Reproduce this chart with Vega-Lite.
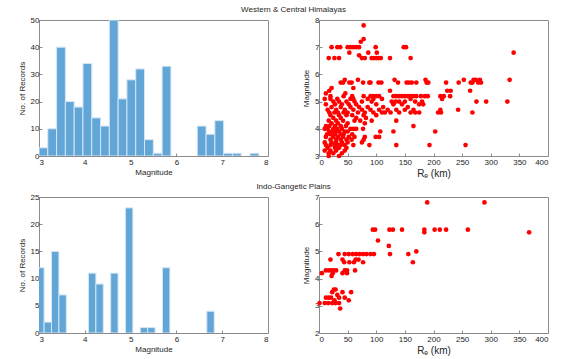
{
  "$schema": "https://vega.github.io/schema/vega-lite/v6.json",
  "padding": {"left": 17, "top": 5, "right": 5, "bottom": 5},
  "background": "white",
  "datasets": {
    "hist_wch": [
      {"bin_start": 3.000, "bin_end": 3.192, "count": 3},
      {"bin_start": 3.192, "bin_end": 3.384, "count": 10},
      {"bin_start": 3.384, "bin_end": 3.576, "count": 40},
      {"bin_start": 3.576, "bin_end": 3.768, "count": 20},
      {"bin_start": 3.768, "bin_end": 3.960, "count": 18},
      {"bin_start": 3.960, "bin_end": 4.152, "count": 34},
      {"bin_start": 4.152, "bin_end": 4.344, "count": 14},
      {"bin_start": 4.344, "bin_end": 4.536, "count": 11},
      {"bin_start": 4.536, "bin_end": 4.728, "count": 50},
      {"bin_start": 4.728, "bin_end": 4.920, "count": 21},
      {"bin_start": 4.920, "bin_end": 5.112, "count": 28},
      {"bin_start": 5.112, "bin_end": 5.304, "count": 32},
      {"bin_start": 5.304, "bin_end": 5.496, "count": 6},
      {"bin_start": 5.496, "bin_end": 5.688, "count": 1},
      {"bin_start": 5.688, "bin_end": 5.880, "count": 33},
      {"bin_start": 6.456, "bin_end": 6.648, "count": 11},
      {"bin_start": 6.648, "bin_end": 6.840, "count": 8},
      {"bin_start": 6.840, "bin_end": 7.032, "count": 13},
      {"bin_start": 7.032, "bin_end": 7.224, "count": 1},
      {"bin_start": 7.224, "bin_end": 7.416, "count": 1},
      {"bin_start": 7.608, "bin_end": 7.800, "count": 1}
    ],
    "hist_igp": [
      {"bin_start": 2.950, "bin_end": 3.1115, "count": 12},
      {"bin_start": 3.1115, "bin_end": 3.273, "count": 2},
      {"bin_start": 3.273, "bin_end": 3.4345, "count": 15},
      {"bin_start": 3.4345, "bin_end": 3.596, "count": 7},
      {"bin_start": 4.0805, "bin_end": 4.242, "count": 11},
      {"bin_start": 4.242, "bin_end": 4.4035, "count": 9},
      {"bin_start": 4.565, "bin_end": 4.7265, "count": 11},
      {"bin_start": 4.888, "bin_end": 5.0495, "count": 23},
      {"bin_start": 5.211, "bin_end": 5.3725, "count": 1},
      {"bin_start": 5.3725, "bin_end": 5.534, "count": 1},
      {"bin_start": 5.6955, "bin_end": 5.857, "count": 12},
      {"bin_start": 6.6645, "bin_end": 6.826, "count": 4}
    ],
    "sc_wch": [
      {"r": 78, "m": 7.8}, {"r": 78, "m": 7.3}, {"r": 73, "m": 7.2},
      {"r": 22, "m": 7.0}, {"r": 32, "m": 7.0}, {"r": 37, "m": 7.0}, {"r": 50, "m": 7.0}, {"r": 55, "m": 7.0}, {"r": 60, "m": 7.0}, {"r": 65, "m": 7.0}, {"r": 70, "m": 7.0}, {"r": 99, "m": 7.0}, {"r": 148, "m": 7.0}, {"r": 152, "m": 7.0},
      {"r": 53, "m": 6.8}, {"r": 86, "m": 6.8}, {"r": 101, "m": 6.8}, {"r": 340, "m": 6.8},
      {"r": 70, "m": 6.7},
      {"r": 17, "m": 6.6}, {"r": 27, "m": 6.6}, {"r": 35, "m": 6.6}, {"r": 75, "m": 6.6}, {"r": 80, "m": 6.6}, {"r": 92, "m": 6.6}, {"r": 96, "m": 6.6}, {"r": 100, "m": 6.6}, {"r": 104, "m": 6.6}, {"r": 108, "m": 6.6}, {"r": 124, "m": 6.6}, {"r": 160, "m": 6.6},
      {"r": 45, "m": 5.8}, {"r": 68, "m": 5.8}, {"r": 132, "m": 5.8}, {"r": 186, "m": 5.8}, {"r": 253, "m": 5.8}, {"r": 270, "m": 5.8}, {"r": 274, "m": 5.8}, {"r": 281, "m": 5.8}, {"r": 333, "m": 5.8},
      {"r": 38, "m": 5.7}, {"r": 42, "m": 5.7}, {"r": 53, "m": 5.7}, {"r": 57, "m": 5.7}, {"r": 77, "m": 5.7}, {"r": 88, "m": 5.7}, {"r": 90, "m": 5.7}, {"r": 104, "m": 5.7}, {"r": 109, "m": 5.7}, {"r": 138, "m": 5.7}, {"r": 153, "m": 5.7}, {"r": 157, "m": 5.7}, {"r": 162, "m": 5.7}, {"r": 170, "m": 5.7}, {"r": 188, "m": 5.7}, {"r": 191, "m": 5.7}, {"r": 222, "m": 5.7}, {"r": 244, "m": 5.7}, {"r": 265, "m": 5.7}, {"r": 268, "m": 5.7}, {"r": 278, "m": 5.7}, {"r": 283, "m": 5.7},
      {"r": 22, "m": 5.5}, {"r": 60, "m": 5.5},
      {"r": 18, "m": 5.4}, {"r": 124, "m": 5.4}, {"r": 224, "m": 5.4}, {"r": 230, "m": 5.4}, {"r": 264, "m": 5.4},
      {"r": 12, "m": 5.3}, {"r": 46, "m": 5.3},
      {"r": 20, "m": 5.2}, {"r": 43, "m": 5.2}, {"r": 58, "m": 5.2}, {"r": 78, "m": 5.2}, {"r": 90, "m": 5.2}, {"r": 95, "m": 5.2}, {"r": 100, "m": 5.2}, {"r": 105, "m": 5.2}, {"r": 130, "m": 5.2}, {"r": 135, "m": 5.2}, {"r": 140, "m": 5.2}, {"r": 145, "m": 5.2}, {"r": 150, "m": 5.2}, {"r": 155, "m": 5.2}, {"r": 160, "m": 5.2}, {"r": 165, "m": 5.2}, {"r": 170, "m": 5.2}, {"r": 178, "m": 5.2}, {"r": 185, "m": 5.2}, {"r": 190, "m": 5.2}, {"r": 212, "m": 5.2}, {"r": 218, "m": 5.2}, {"r": 229, "m": 5.2},
      {"r": 10, "m": 5.1}, {"r": 20, "m": 5.1}, {"r": 32, "m": 5.1}, {"r": 55, "m": 5.1}, {"r": 60, "m": 5.1}, {"r": 85, "m": 5.1}, {"r": 95, "m": 5.1}, {"r": 110, "m": 5.1}, {"r": 160, "m": 5.1}, {"r": 215, "m": 5.1},
      {"r": 25, "m": 5.0}, {"r": 35, "m": 5.0}, {"r": 48, "m": 5.0}, {"r": 62, "m": 5.0}, {"r": 75, "m": 5.0}, {"r": 92, "m": 5.0}, {"r": 127, "m": 5.0}, {"r": 134, "m": 5.0}, {"r": 140, "m": 5.0}, {"r": 150, "m": 5.0}, {"r": 168, "m": 5.0}, {"r": 180, "m": 5.0}, {"r": 275, "m": 5.0}, {"r": 292, "m": 5.0}, {"r": 329, "m": 5.0},
      {"r": 12, "m": 4.9}, {"r": 28, "m": 4.9}, {"r": 40, "m": 4.9}, {"r": 52, "m": 4.9}, {"r": 65, "m": 4.9}, {"r": 100, "m": 4.9}, {"r": 130, "m": 4.9}, {"r": 145, "m": 4.9}, {"r": 175, "m": 4.9}, {"r": 182, "m": 4.9},
      {"r": 22, "m": 4.8}, {"r": 38, "m": 4.8}, {"r": 55, "m": 4.8}, {"r": 70, "m": 4.8}, {"r": 85, "m": 4.8}, {"r": 112, "m": 4.8}, {"r": 155, "m": 4.8},
      {"r": 15, "m": 4.7}, {"r": 30, "m": 4.7}, {"r": 45, "m": 4.7}, {"r": 60, "m": 4.7}, {"r": 75, "m": 4.7}, {"r": 90, "m": 4.7}, {"r": 105, "m": 4.7}, {"r": 120, "m": 4.7}, {"r": 135, "m": 4.7}, {"r": 150, "m": 4.7}, {"r": 165, "m": 4.7}, {"r": 212, "m": 4.7}, {"r": 243, "m": 4.7},
      {"r": 18, "m": 4.6}, {"r": 27, "m": 4.6}, {"r": 33, "m": 4.6}, {"r": 43, "m": 4.6}, {"r": 50, "m": 4.6}, {"r": 68, "m": 4.6}, {"r": 80, "m": 4.6}, {"r": 95, "m": 4.6}, {"r": 110, "m": 4.6}, {"r": 115, "m": 4.6}, {"r": 125, "m": 4.6}, {"r": 140, "m": 4.6}, {"r": 160, "m": 4.6}, {"r": 168, "m": 4.6}, {"r": 175, "m": 4.6}, {"r": 208, "m": 4.6}, {"r": 213, "m": 4.6}, {"r": 268, "m": 4.6},
      {"r": 20, "m": 4.5}, {"r": 35, "m": 4.5}, {"r": 48, "m": 4.5}, {"r": 58, "m": 4.5}, {"r": 78, "m": 4.5}, {"r": 100, "m": 4.5},
      {"r": 25, "m": 4.4}, {"r": 38, "m": 4.4}, {"r": 65, "m": 4.4}, {"r": 82, "m": 4.4},
      {"r": 17, "m": 4.3}, {"r": 30, "m": 4.3}, {"r": 42, "m": 4.3}, {"r": 62, "m": 4.3}, {"r": 72, "m": 4.3}, {"r": 92, "m": 4.3}, {"r": 135, "m": 4.3},
      {"r": 22, "m": 4.2}, {"r": 33, "m": 4.2}, {"r": 50, "m": 4.2}, {"r": 80, "m": 4.2},
      {"r": 12, "m": 4.1}, {"r": 18, "m": 4.1}, {"r": 28, "m": 4.1}, {"r": 38, "m": 4.1}, {"r": 47, "m": 4.1}, {"r": 165, "m": 4.1},
      {"r": 10, "m": 4.0}, {"r": 15, "m": 4.0}, {"r": 25, "m": 4.0}, {"r": 32, "m": 4.0}, {"r": 40, "m": 4.0}, {"r": 55, "m": 4.0}, {"r": 60, "m": 4.0}, {"r": 65, "m": 4.0}, {"r": 77, "m": 4.0},
      {"r": 18, "m": 3.9}, {"r": 23, "m": 3.9}, {"r": 30, "m": 3.9}, {"r": 35, "m": 3.9}, {"r": 45, "m": 3.9}, {"r": 50, "m": 3.9}, {"r": 107, "m": 3.9}, {"r": 130, "m": 3.9}, {"r": 203, "m": 3.9},
      {"r": 14, "m": 3.8}, {"r": 20, "m": 3.8}, {"r": 28, "m": 3.8}, {"r": 38, "m": 3.8}, {"r": 43, "m": 3.8}, {"r": 58, "m": 3.8},
      {"r": 12, "m": 3.7}, {"r": 25, "m": 3.7}, {"r": 33, "m": 3.7}, {"r": 42, "m": 3.7}, {"r": 52, "m": 3.7}, {"r": 62, "m": 3.7}, {"r": 80, "m": 3.7}, {"r": 99, "m": 3.7}, {"r": 105, "m": 3.7},
      {"r": 20, "m": 3.6}, {"r": 30, "m": 3.6}, {"r": 38, "m": 3.6}, {"r": 48, "m": 3.6}, {"r": 57, "m": 3.6}, {"r": 78, "m": 3.6},
      {"r": 10, "m": 3.5}, {"r": 22, "m": 3.5}, {"r": 30, "m": 3.5}, {"r": 40, "m": 3.5}, {"r": 50, "m": 3.5}, {"r": 75, "m": 3.5},
      {"r": 12, "m": 3.4}, {"r": 20, "m": 3.4}, {"r": 27, "m": 3.4}, {"r": 33, "m": 3.4}, {"r": 38, "m": 3.4}, {"r": 45, "m": 3.4}, {"r": 60, "m": 3.4}, {"r": 88, "m": 3.4}, {"r": 135, "m": 3.4}, {"r": 193, "m": 3.4}, {"r": 256, "m": 3.4},
      {"r": 15, "m": 3.3}, {"r": 28, "m": 3.3}, {"r": 35, "m": 3.3}, {"r": 48, "m": 3.3},
      {"r": 10, "m": 3.2}, {"r": 20, "m": 3.2}, {"r": 30, "m": 3.2}, {"r": 45, "m": 3.2},
      {"r": 17, "m": 3.1}, {"r": 25, "m": 3.1}, {"r": 40, "m": 3.1},
      {"r": 17, "m": 3.0}, {"r": 35, "m": 3.0}
    ],
    "sc_igp": [
      {"r": 1, "m": 3.1},
      {"r": 5, "m": 4.2}, {"r": 12, "m": 4.3}, {"r": 17, "m": 4.3}, {"r": 22, "m": 4.3}, {"r": 26, "m": 4.3}, {"r": 30, "m": 4.3}, {"r": 24, "m": 4.2}, {"r": 22, "m": 4.1}, {"r": 20, "m": 4.7},
      {"r": 34, "m": 4.9}, {"r": 45, "m": 4.9}, {"r": 52, "m": 4.9}, {"r": 59, "m": 4.9}, {"r": 65, "m": 4.9}, {"r": 71, "m": 4.9}, {"r": 77, "m": 4.9}, {"r": 83, "m": 4.9}, {"r": 90, "m": 4.9}, {"r": 96, "m": 4.9},
      {"r": 41, "m": 4.7}, {"r": 44, "m": 4.6}, {"r": 53, "m": 4.6}, {"r": 64, "m": 4.7}, {"r": 69, "m": 4.7}, {"r": 61, "m": 4.6}, {"r": 77, "m": 4.6},
      {"r": 45, "m": 4.3}, {"r": 49, "m": 4.3}, {"r": 63, "m": 4.3}, {"r": 41, "m": 4.2}, {"r": 49, "m": 4.2},
      {"r": 94, "m": 5.8}, {"r": 98, "m": 5.8}, {"r": 123, "m": 5.8}, {"r": 129, "m": 5.8}, {"r": 145, "m": 5.8}, {"r": 184, "m": 5.8}, {"r": 202, "m": 5.8}, {"r": 211, "m": 5.8}, {"r": 222, "m": 5.8}, {"r": 260, "m": 5.8},
      {"r": 184, "m": 5.7}, {"r": 367, "m": 5.7},
      {"r": 103, "m": 5.4}, {"r": 122, "m": 5.2}, {"r": 124, "m": 4.9}, {"r": 156, "m": 4.9}, {"r": 170, "m": 5.0}, {"r": 164, "m": 4.6},
      {"r": 189, "m": 6.8}, {"r": 289, "m": 6.8},
      {"r": 26, "m": 3.6}, {"r": 29, "m": 3.6}, {"r": 23, "m": 3.5}, {"r": 41, "m": 3.5}, {"r": 56, "m": 3.5},
      {"r": 12, "m": 3.3}, {"r": 17, "m": 3.3}, {"r": 21, "m": 3.3}, {"r": 32, "m": 3.4}, {"r": 35, "m": 3.3}, {"r": 45, "m": 3.3},
      {"r": 10, "m": 3.1}, {"r": 16, "m": 3.1}, {"r": 23, "m": 3.1}, {"r": 29, "m": 3.1}, {"r": 35, "m": 3.1},
      {"r": 52, "m": 3.2}, {"r": 27, "m": 3.2}, {"r": 37, "m": 2.9}
    ]
  },
  "columns": 2,
  "bounds": "flush",
  "spacing": {"row": 41, "column": 51},
  "concat": [
    {
      "title": {"text": "Western & Central Himalayas", "dx": 140},
      "width": 229, "height": 136,
      "data": {"name": "hist_wch"},
      "mark": {"type": "bar", "color": "#62a6d7", "stroke": "#d4e6f4", "strokeWidth": 1, "clip": true},
      "encoding": {
        "x": {"field": "bin_start", "type": "quantitative", "scale": {"domain": [3, 8], "nice": false}, "axis": {"title": "Magnitude", "values": [3, 4, 5, 6, 7, 8]}},
        "x2": {"field": "bin_end"},
        "y": {"field": "count", "type": "quantitative", "scale": {"domain": [0, 50], "nice": false}, "axis": {"title": "No. of Records", "values": [0, 10, 20, 30, 40, 50]}},
        "y2": {"datum": 0}
      }
    },
    {
      "width": 229, "height": 136,
      "data": {"name": "sc_wch"},
      "mark": {"type": "circle", "color": "#ff0000", "opacity": 1, "size": 22},
      "encoding": {
        "x": {"field": "r", "type": "quantitative", "scale": {"domain": [0, 400], "nice": false}, "axis": {"title": "Rₑ (km)", "titleFontSize": 10, "values": [0, 50, 100, 150, 200, 250, 300, 350, 400]}},
        "y": {"field": "m", "type": "quantitative", "scale": {"domain": [3, 8], "nice": false, "zero": false}, "axis": {"title": "Magnitude", "values": [3, 4, 5, 6, 7, 8]}}
      }
    },
    {
      "title": {"text": "Indo-Gangetic Plains", "dx": 140},
      "width": 229, "height": 136,
      "data": {"name": "hist_igp"},
      "mark": {"type": "bar", "color": "#62a6d7", "stroke": "#d4e6f4", "strokeWidth": 1, "clip": true},
      "encoding": {
        "x": {"field": "bin_start", "type": "quantitative", "scale": {"domain": [3, 8], "nice": false}, "axis": {"title": "Magnitude", "values": [3, 4, 5, 6, 7, 8]}},
        "x2": {"field": "bin_end"},
        "y": {"field": "count", "type": "quantitative", "scale": {"domain": [0, 25], "nice": false}, "axis": {"title": "No. of Records", "values": [0, 5, 10, 15, 20, 25]}},
        "y2": {"datum": 0}
      }
    },
    {
      "width": 229, "height": 136,
      "data": {"name": "sc_igp"},
      "mark": {"type": "circle", "color": "#ff0000", "opacity": 1, "size": 22},
      "encoding": {
        "x": {"field": "r", "type": "quantitative", "scale": {"domain": [0, 400], "nice": false}, "axis": {"title": "Rₑ (km)", "titleFontSize": 10, "values": [0, 50, 100, 150, 200, 250, 300, 350, 400]}},
        "y": {"field": "m", "type": "quantitative", "scale": {"domain": [2, 7], "nice": false, "zero": false}, "axis": {"title": "Magnitude", "values": [2, 3, 4, 5, 6, 7]}}
      }
    }
  ],
  "config": {
    "font": "Liberation Sans",
    "view": {"stroke": "#8c8c8c", "strokeWidth": 1},
    "title": {"fontSize": 8, "fontWeight": "normal", "color": "#262626", "anchor": "middle", "offset": 2},
    "axis": {
      "domain": false,
      "grid": false,
      "tickColor": "#8c8c8c",
      "tickSize": -3,
      "labelFontSize": 8,
      "labelColor": "#262626",
      "labelPadding": 3,
      "titleFontSize": 8,
      "titleFontWeight": "normal",
      "titleColor": "#262626",
      "titlePadding": 4
    },
    "axisX": {"labelPadding": 5, "titlePadding": 2}
  }
}
